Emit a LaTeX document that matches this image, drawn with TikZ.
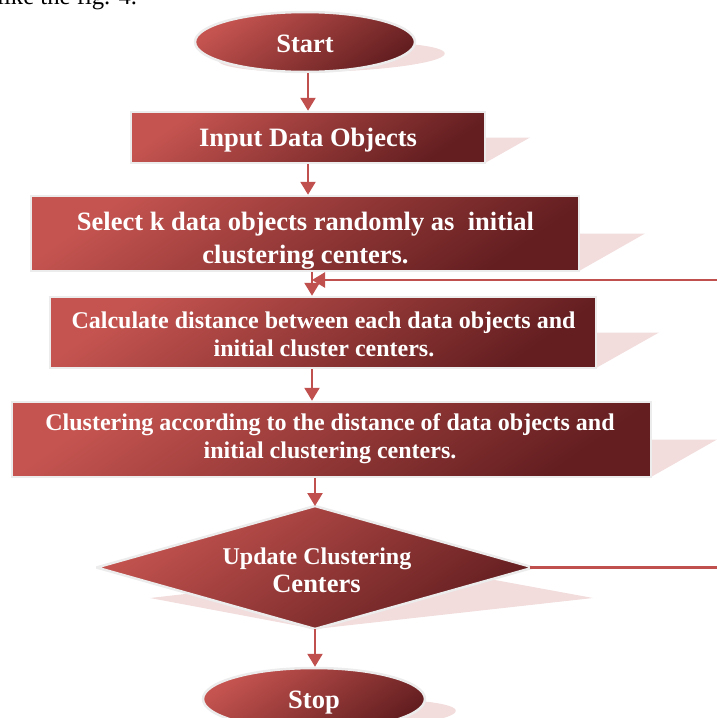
\documentclass[tikz,border=0pt]{standalone}
\usepackage{fontspec}
\setmainfont{Liberation Serif}
\usetikzlibrary{shapes.geometric,arrows.meta}

\definecolor{boxlight}{RGB}{197,84,80}
\definecolor{boxdark}{RGB}{100,30,32}
\definecolor{glow}{RGB}{236,236,236}
\definecolor{shadowpink}{RGB}{242,220,220}
\definecolor{linkred}{RGB}{192,80,77}

\tikzset{
  flowfill/.style={top color=boxlight, bottom color=boxdark, shading angle=35,
                   draw=glow, line width=2.5pt},
  boxshape/.style={flowfill, rectangle, inner sep=0pt},
  ovalshape/.style={flowfill, ellipse, inner sep=0pt},
  choiceshape/.style={flowfill, diamond, inner sep=0pt, outer sep=0pt, line join=bevel},
  shadowfill/.style={fill=shadowpink, draw=none},
  bigtxt/.style={text=white, inner sep=0pt, anchor=base,
                 font=\bfseries\fontsize{26.5}{30}\selectfont},
  smalltxt/.style={text=white, inner sep=0pt, anchor=base,
                   font=\bfseries\fontsize{24}{28}\selectfont},
  conn/.style={draw=linkred, line width=2.4pt,
               -{Triangle[length=13pt,width=15pt]}},
  plainlink/.style={draw=linkred, line width=2.4pt}
}

\begin{document}
\begin{tikzpicture}[x=1pt, y=-1pt]
\useasboundingbox (0,0) rectangle (716,718);

% running text of the page above the chart
\node[anchor=base west, inner sep=0pt, font=\fontsize{24.7}{28}\selectfont]
  (pagetext) at (-3,4) {like the fig. 4.};

% perspective shadows (sheared, half-height copies resting on each base)
\fill[shadowfill] plot[domain=0:360, samples=90]
  ({305+110*cos(\x)+0.885*(30-30*sin(\x))}, {36+0.5*(42+30*sin(\x))}) -- cycle;
\fill[shadowfill] (131,163) -- (485,163) -- (530,137.5) -- (176,137.5) -- cycle;
\fill[shadowfill] (31,271) -- (579,271) -- (645,233.5) -- (97,233.5) -- cycle;
\fill[shadowfill] (50,368) -- (596,368) -- (659,332.5) -- (113,332.5) -- cycle;
\fill[shadowfill] (12,477) -- (651,477) -- (717,439.5) -- (78,439.5) -- cycle;
\fill[shadowfill] (315,629) -- (150,598) -- (424,567) -- (593,598) -- cycle;
\fill[shadowfill] plot[domain=0:360, samples=90]
  ({314+111*cos(\x)+0.885*(31-31*sin(\x))}, {365+0.5*(699+31*sin(\x))}) -- cycle;

% flowchart shapes
\node[ovalshape, minimum width=220pt, minimum height=60pt] (start) at (305,42) {};
\node[boxshape, minimum width=354pt, minimum height=51pt] (input) at (308,137.5) {};
\node[boxshape, minimum width=548pt, minimum height=75pt] (select) at (305,233.5) {};
\node[boxshape, minimum width=546pt, minimum height=71pt] (calc) at (323,332.5) {};
\node[boxshape, minimum width=639pt, minimum height=75pt] (clust) at (331.5,439.5) {};
\node[choiceshape, minimum width=437pt, minimum height=123pt] (decide) at (315,567.5) {};
\node[ovalshape, minimum width=222pt, minimum height=62pt] (stop) at (314,699) {};

% junction where the loop re-enters, and the turning point off to the right
\coordinate (merge) at (312,280);
\coordinate (loopback) at (745,280);

% connectors
\draw[conn] (input.north |- start.south) -- (input.north);
\draw[conn] (input.south) -- (input.south |- select.north);
\draw[conn] (select.south -| merge) -- (calc.north -| merge);
\draw[conn] (calc.south -| merge) -- (clust.north -| merge);
\draw[conn] (clust.south -| decide.north) -- (decide.north);
\draw[conn] (decide.south) -- (decide.south |- stop.north);
\draw[conn] ([xshift=-4pt]decide.east) -| (loopback) -- (merge);

% labels
\node[bigtxt] (startlbl) at (305,52) {Start};
\node[bigtxt] (inputlbl) at (308,146) {Input Data Objects};
\node[bigtxt] (selectlbla) at (305.5,230) {Select k data objects randomly as\ \ initial};
\node[bigtxt] (selectlblb) at (305.5,263) {clustering centers.};
\node[smalltxt] (calclbla) at (323.5,328) {Calculate distance between each data objects and};
\node[smalltxt] (calclblb) at (324,356) {initial cluster centers.};
\node[smalltxt] (clustlbla) at (330,430) {Clustering according to the distance of data objects and};
\node[smalltxt] (clustlblb) at (330,458) {initial clustering centers.};
\node[smalltxt] (decidelbla) at (317,564) {Update Clustering};
\node[bigtxt] (decidelblb) at (316.5,592) {Centers};
\node[bigtxt] (stoplbl) at (314,708) {Stop};
\end{tikzpicture}
\end{document}
